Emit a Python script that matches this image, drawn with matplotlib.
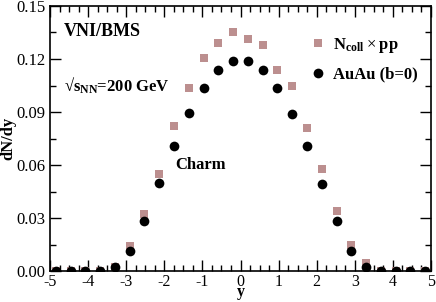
import matplotlib
matplotlib.use("Agg")
import matplotlib.pyplot as plt

plt.rcParams['font.family'] = ['Liberation Serif', 'DejaVu Serif']
plt.rcParams['mathtext.fontset'] = 'custom'
plt.rcParams['mathtext.rm'] = 'Liberation Serif'
plt.rcParams['mathtext.bf'] = 'Liberation Serif:bold'
plt.rcParams['axes.unicode_minus'] = False

# rapidity bins
y_rap = [-4.85, -4.46, -4.07, -3.69, -3.30, -2.91, -2.52, -2.13, -1.75, -1.36,
         -0.97, -0.58, -0.19, 0.19, 0.58, 0.97, 1.36, 1.75, 2.13, 2.52,
         2.91, 3.30, 3.69, 4.07, 4.46, 4.85]

# N_coll x pp
ncoll_pp = [0.0, 0.0, 0.0, 0.0, 0.002, 0.0143, 0.032, 0.0548, 0.0821, 0.1038,
            0.1206, 0.129, 0.1355, 0.1315, 0.1278, 0.1138, 0.1046, 0.0808, 0.0575, 0.0339,
            0.0147, 0.0043, 0.0, 0.0, 0.0, 0.0]

# AuAu (b=0)
auau = [0.0, 0.0, 0.0, 0.0, 0.002, 0.0113, 0.0285, 0.050, 0.0708, 0.0895,
        0.1036, 0.1138, 0.1191, 0.1191, 0.1138, 0.1038, 0.0891, 0.0708, 0.0494, 0.0281,
        0.0111, 0.0023, 0.0, 0.0, 0.0, 0.0]

fig = plt.figure(figsize=(4.36, 3.02), dpi=100)
ax = fig.add_axes([50/436, 1-271/302, 381/436, 265/302])

ax.plot(y_rap, ncoll_pp, 's', color='#bc8f8f', markersize=6, markeredgewidth=0,
        label=r'$\mathbf{N_{coll}}\times\mathbf{pp}$')
ax.plot(y_rap, auau, 'o', color='black', markersize=7, markeredgewidth=0,
        label=r'AuAu (b=0)')

ax.set_xlim(-5, 5)
ax.set_ylim(0, 0.15)
ax.set_xticks(range(-5, 6))
ax.set_yticks([0.0, 0.03, 0.06, 0.09, 0.12, 0.15])
ax.set_yticklabels(['0.00', '0.03', '0.06', '0.09', '0.12', '0.15'])
ax.set_xticks([i * 0.25 - 5 for i in range(41)], minor=True)
ax.set_yticks([i * 0.015 for i in range(11)], minor=True)
ax.tick_params(which='both', direction='in', top=True, right=True, labelsize=12,
               width=1)
ax.tick_params(which='major', length=8, pad=3)
ax.tick_params(axis='x', which='major', pad=2, labelsize=11.5)
ax.tick_params(which='minor', length=4)
for s in ax.spines.values():
    s.set_linewidth(1.2)

ax.set_xlabel('y', fontsize=11.5, fontweight='bold', va='bottom')
ax.xaxis.set_label_coords(0.5, -(300.5 - 271) / 265)
ax.set_ylabel('dN/dy', fontsize=12, fontweight='bold')
ax.yaxis.set_label_coords(-0.087, 0.5)

ax.text(0.036, 0.905, 'VNI/BMS', transform=ax.transAxes, fontsize=13,
        fontweight='bold', va='center')
ax.text(0.036, 0.70, r'√$\mathbf{s_{NN}}$=200 GeV', transform=ax.transAxes,
        fontsize=12, fontweight='bold', va='center')
ax.text(-1.7, 0.060, 'Charm', fontsize=12, fontweight='bold', va='center')

leg = ax.legend(loc='upper left', bbox_to_anchor=(0.665, 0.913), frameon=False,
                numpoints=1, handlelength=1.0, handletextpad=0.35,
                labelspacing=0.7, borderaxespad=0,
                prop={'weight': 'bold', 'size': 12})

fig.savefig('out.png', dpi=100)
